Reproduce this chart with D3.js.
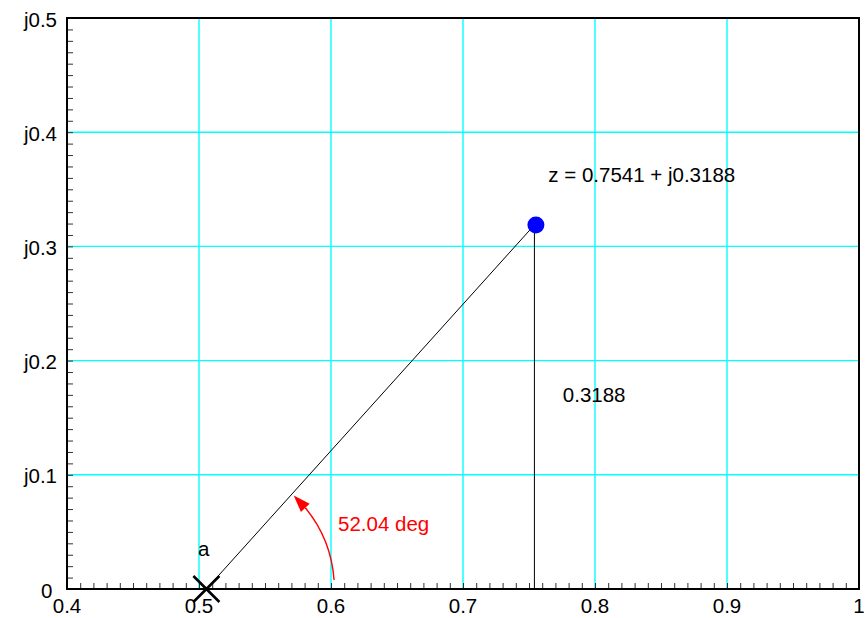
<!DOCTYPE html>
<html>
<head>
<meta charset="utf-8">
<script src="https://cdn.jsdelivr.net/npm/d3@7"></script>
<style>
  html, body { margin: 0; padding: 0; background: #fff; }
  svg { display: block; font-family: "Liberation Sans", Arial, Helvetica, sans-serif; }
</style>
</head>
<body>
<svg id="chart" width="867" height="618"></svg>
<script>
// Real / imaginary axis ticks
const xTicks = [0.4, 0.5, 0.6, 0.7, 0.8, 0.9, 1.0];
const xTickLabels = ["0.4", "0.5", "0.6", "0.7", "0.8", "0.9", "1"];
const yTicks = [0, 0.1, 0.2, 0.3, 0.4, 0.5];
const yTickLabels = ["0", "j0.1", "j0.2", "j0.3", "j0.4", "j0.5"];

// The complex value z and the reference point a on the real axis
const zPoint = [0.7541, 0.3188];
const aPoint = [0.5056, 0];
const angleDeg = [52.04];

// Annotation anchors (data coordinates)
const zLabelAt = [0.7646, 0.356];
const imLabelAt = [0.7756, 0.1637];
const aLabelAt = [0.4992, 0.0289];
const angleLabelAt = [0.6053, 0.0508];

const plotLeft = 67, plotRight = 859, plotTop = 18, plotBottom = 589;
const fontSize = 20.5;

const x = d3.scaleLinear().domain([0.4, 1.0]).range([plotLeft, plotRight]);
const y = d3.scaleLinear().domain([0, 0.5]).range([plotBottom, plotTop]);

const svg = d3.select("#chart");

// Grid
svg.append("g")
  .selectAll("line")
  .data(xTicks.filter(v => v > 0.4 && v < 1.0))
  .join("line")
  .attr("x1", d => x(d)).attr("x2", d => x(d))
  .attr("y1", plotTop).attr("y2", plotBottom)
  .attr("stroke", "#00ffff").attr("stroke-width", 1.4);

svg.append("g")
  .selectAll("line")
  .data(yTicks.filter(v => v > 0 && v < 0.5))
  .join("line")
  .attr("x1", plotLeft).attr("x2", plotRight)
  .attr("y1", d => y(d)).attr("y2", d => y(d))
  .attr("stroke", "#00ffff").attr("stroke-width", 1.4);

// Minor ticks every 0.01
const xMinor = d3.range(41, 100).map(i => i / 100);
const yMinor = d3.range(1, 50).map(i => i / 100);

const xAxis = d3.axisBottom(x).tickValues(xMinor).tickSize(-6).tickFormat("");
const yAxis = d3.axisLeft(y).tickValues(yMinor).tickSize(-6).tickFormat("");

const gx = svg.append("g").attr("transform", `translate(0,${plotBottom})`).call(xAxis);
gx.select(".domain").remove();
gx.selectAll(".tick line").attr("stroke", "#333").attr("stroke-width", 1);

const gy = svg.append("g").attr("transform", `translate(${plotLeft},0)`).call(yAxis);
gy.select(".domain").remove();
gy.selectAll(".tick line").attr("stroke", "#333").attr("stroke-width", 1);

// Frame
svg.append("rect")
  .attr("x", plotLeft).attr("y", plotTop)
  .attr("width", plotRight - plotLeft).attr("height", plotBottom - plotTop)
  .attr("fill", "none").attr("stroke", "#000").attr("stroke-width", 2);

// Tick labels
svg.append("g")
  .selectAll("text")
  .data(xTicks)
  .join("text")
  .attr("x", d => x(d))
  .attr("y", plotBottom + 24)
  .attr("text-anchor", "middle")
  .attr("font-size", fontSize)
  .attr("fill", "#000")
  .text((d, i) => xTickLabels[i]);

// the "0" label sits a little further left, clear of the "0.4" below it
svg.append("g")
  .selectAll("text")
  .data(yTicks)
  .join("text")
  .attr("x", d => d === 0 ? plotLeft - 14.5 : plotLeft - 10)
  .attr("y", d => y(d) + 8.5)
  .attr("text-anchor", "end")
  .attr("font-size", fontSize)
  .attr("fill", "#000")
  .text((d, i) => yTickLabels[i]);

// Vector from a to z and its imaginary part
svg.append("line")
  .attr("x1", x(aPoint[0])).attr("y1", y(aPoint[1]))
  .attr("x2", x(zPoint[0])).attr("y2", y(zPoint[1]))
  .attr("stroke", "#000").attr("stroke-width", 1);

svg.append("line")
  .attr("x1", x(zPoint[0])).attr("y1", y(zPoint[1]))
  .attr("x2", x(zPoint[0])).attr("y2", y(0))
  .attr("stroke", "#000").attr("stroke-width", 1);

// Cross marker at a
const cx = x(aPoint[0]), cy = y(aPoint[1]), cs = 13;
svg.append("path")
  .attr("d", `M${cx - cs},${cy - cs}L${cx + cs},${cy + cs}M${cx - cs},${cy + cs}L${cx + cs},${cy - cs}`)
  .attr("stroke", "#000").attr("stroke-width", 2.6).attr("fill", "none");

// Point z
svg.append("circle")
  .attr("cx", x(zPoint[0]) + 1.5).attr("cy", y(zPoint[1]))
  .attr("r", 8.5)
  .attr("fill", "#0000ff");

// Angle arc with arrowhead (drawn in screen space around a)
const rArc = 128;
const a0 = 4 * Math.PI / 180;
const aTip = 47 * Math.PI / 180;
const headLen = 17, headHalf = 6;
const aBase = aTip - headLen / rArc;
const pt = t => [cx + rArc * Math.cos(t), cy - rArc * Math.sin(t)];

const arcPath = d3.path();
const p0 = pt(a0);
arcPath.moveTo(p0[0], p0[1]);
arcPath.arc(cx, cy, rArc, -a0, -aBase, true);
svg.append("path")
  .attr("d", arcPath.toString())
  .attr("fill", "none").attr("stroke", "#ff0000").attr("stroke-width", 1.4);

const tip = pt(aTip), base = pt(aBase);
const dx = tip[0] - base[0], dy = tip[1] - base[1];
const len = Math.hypot(dx, dy);
const nx = -dy / len, ny = dx / len;
svg.append("path")
  .attr("d", `M${tip[0]},${tip[1]}L${base[0] + nx * headHalf},${base[1] + ny * headHalf}L${base[0] - nx * headHalf},${base[1] - ny * headHalf}Z`)
  .attr("fill", "#ff0000");

// Annotations
svg.append("text")
  .attr("x", x(zLabelAt[0])).attr("y", y(zLabelAt[1]))
  .attr("font-size", fontSize).attr("fill", "#000")
  .text(`z = ${zPoint[0].toFixed(4)} + j${zPoint[1].toFixed(4)}`);

svg.append("text")
  .attr("x", x(imLabelAt[0])).attr("y", y(imLabelAt[1]))
  .attr("font-size", fontSize).attr("fill", "#000")
  .text(zPoint[1].toFixed(4));

svg.append("text")
  .attr("x", x(aLabelAt[0])).attr("y", y(aLabelAt[1]))
  .attr("font-size", fontSize).attr("fill", "#000")
  .text("a");

svg.append("text")
  .attr("x", x(angleLabelAt[0])).attr("y", y(angleLabelAt[1]))
  .attr("font-size", fontSize).attr("fill", "#ff0000")
  .text(`${angleDeg[0].toFixed(2)} deg`);
</script>
</body>
</html>
